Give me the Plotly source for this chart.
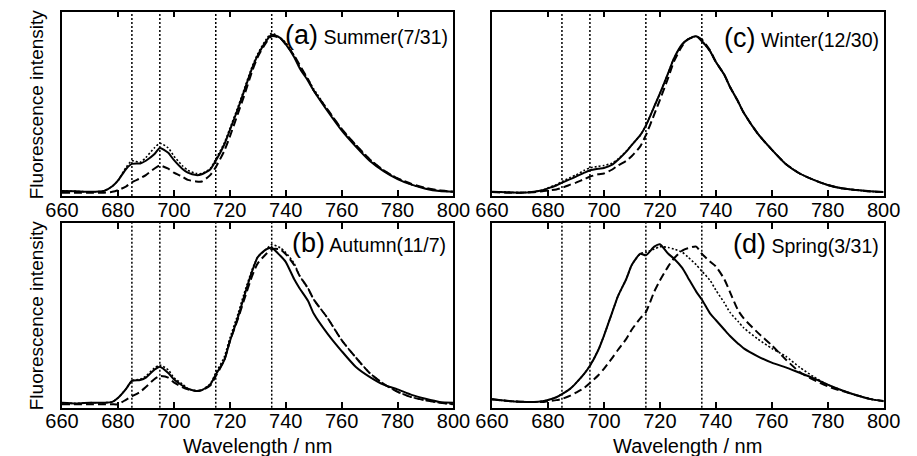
import plotly.graph_objects as go

# Wavelength grid (nm)
WL = [660, 665, 670, 675, 678, 680, 683, 685, 688, 690, 693, 695, 698, 700, 703, 705,
      708, 710, 713, 715, 718, 720, 723, 725, 728, 730, 733, 735, 738, 740, 743, 745,
      748, 750, 755, 760, 765, 770, 775, 780, 785, 790, 795, 800]

# (a) Summer(7/31)
a_solid = [.01, .008, .005, .01, .04, .075, .15, .18, .183, .2, .24, .28, .25, .205, .15, .125,
           .11, .115, .145, .2, .3, .39, .53, .63, .78, .86, .95, .99, .97, .93, .85, .78,
           .70, .64, .51, .39, .29, .2, .135, .085, .05, .025, .01, .005]
a_dot = [.01, .008, .005, .01, .04, .075, .16, .2, .19, .22, .28, .31, .28, .23, .17, .14,
         .12, .12, .15, .21, .31, .40, .54, .64, .79, .87, .96, 1.0, .97, .94, .86, .79,
         .71, .65, .52, .40, .30, .21, .14, .09, .05, .027, .012, .005]
a_dash = [.0, .0, .0, .0, .005, .015, .04, .065, .09, .11, .15, .17, .15, .125, .1, .08,
          .07, .07, .11, .16, .26, .35, .5, .6, .76, .85, .94, .98, .97, .93, .86, .8,
          .71, .64, .52, .4, .3, .21, .14, .09, .055, .03, .015, .005]

# (b) Autumn(11/7)
b_solid = [.01, .005, .01, .01, .015, .04, .1, .15, .155, .17, .22, .24, .2, .16, .12, .1,
           .085, .09, .125, .19, .28, .4, .56, .68, .85, .94, .99, 1.0, .95, .91, .8, .74,
           .66, .58, .45, .34, .24, .175, .125, .095, .06, .035, .015, .01]
b_dot = [.01, .005, .01, .01, .015, .04, .1, .15, .16, .18, .23, .25, .22, .17, .13, .1,
         .085, .09, .13, .2, .3, .42, .58, .7, .86, .94, .99, 1.02, 1.0, .97, .9, .82,
         .74, .67, .55, .41, .3, .2, .13, .08, .045, .025, .01, .0]
b_dash = [.0, .0, .0, .0, .0, .0, .03, .05, .08, .11, .16, .18, .17, .14, .11, .095,
          .085, .09, .12, .18, .28, .4, .55, .66, .82, .9, .96, .99, .99, .96, .89, .82,
          .74, .67, .55, .41, .3, .2, .13, .08, .045, .025, .01, .0]

# (c) Winter(12/30)
c_solid = [.006, .003, .0, .006, .015, .027, .045, .063, .085, .1, .125, .14, .15, .155, .175, .205,
           .257, .3, .36, .42, .54, .62, .75, .84, .93, .96, .98, .95, .885, .82, .74, .665,
           .57, .5, .37, .27, .18, .12, .08, .048, .027, .017, .008, .004]
c_dot = [.006, .003, .0, .006, .015, .03, .05, .07, .095, .11, .14, .155, .165, .17, .185, .21,
         .26, .3, .36, .42, .54, .62, .75, .84, .93, .96, .98, .95, .885, .82, .74, .665,
         .57, .5, .37, .27, .18, .12, .08, .048, .027, .017, .008, .004]
c_dash = [.004, .0, .0, .003, .008, .013, .02, .03, .05, .063, .085, .1, .115, .12, .145, .17,
          .2, .23, .29, .36, .49, .58, .72, .82, .92, .96, .98, .96, .89, .82, .74, .665,
          .57, .5, .37, .27, .18, .12, .08, .048, .027, .017, .008, .004]

# (d) Spring(3/31)
d_solid = [.017, .008, .002, .0, .005, .013, .03, .05, .085, .12, .18, .23, .33, .42, .57, .67,
           .78, .87, .94, .93, .985, 1.0, .94, .91, .85, .79, .70, .65, .56, .52, .46, .42,
           .37, .34, .29, .25, .22, .185, .15, .11, .075, .045, .02, .005]
d_dot = [.017, .008, .002, .0, .005, .013, .03, .05, .085, .12, .18, .23, .33, .42, .57, .67,
         .78, .87, .94, .95, .97, .985, .98, .97, .95, .92, .87, .83, .77, .71, .63, .57,
         .51, .47, .4, .34, .29, .22, .16, .11, .075, .045, .02, .005]
d_dash = [.017, .008, .002, .0, .0, .005, .012, .02, .04, .06, .09, .12, .17, .21, .28, .33,
          .4, .46, .53, .57, .7, .77, .86, .91, .96, .975, .985, .94, .89, .86, .78, .7,
          .58, .53, .44, .36, .27, .19, .14, .1, .07, .045, .02, .006]

MARKS = [685, 695, 715, 735]
X_TICKS = [660, 680, 700, 720, 740, 760, 780, 800]

panels = [
    ("a", "", (a_solid, a_dot, a_dash), "(a)", "Summer(7/31)"),
    ("c", "2", (c_solid, c_dot, c_dash), "(c)", "Winter(12/30)"),
    ("b", "3", (b_solid, b_dot, b_dash), "(b)", "Autumn(11/7)"),
    ("d", "4", (d_solid, d_dot, d_dash), "(d)", "Spring(3/31)"),
]

W, H = 917, 456
xdom_l = [46.7 / W, 453.3 / W]
xdom_r = [493.3 / W, 900.0 / W]
ydom_t = [1 - 196.0 / H, 1 - 11.7 / H]
ydom_b = [1 - 407.7 / H, 1 - 223.0 / H]
yranges = {"a": [-0.021, 1.134], "c": [-0.021, 1.134], "b": [-0.022, 1.158], "d": [-0.036, 1.135]}
doms = {"a": (xdom_l, ydom_t), "c": (xdom_r, ydom_t), "b": (xdom_l, ydom_b), "d": (xdom_r, ydom_b)}

FONT = "Liberation Sans, Arial, Helvetica, sans-serif"
fig = go.Figure()
layout = {}
shapes = []
annotations = []

styles = [dict(dash="solid", width=2.0), dict(dash="2px,2px", width=1.6), dict(dash="8px,4px", width=2.0)]

label_pos = {"a": (450, 35), "c": (897, 38), "b": (448, 243), "d": (897, 244)}

for name, suf, series, letter, text in panels:
    xa = "x" + suf
    ya = "y" + suf
    for s, st in zip(series, styles):
        fig.add_trace(go.Scatter(x=WL, y=s, xaxis=xa, yaxis=ya, mode="lines",
                                 line=dict(color="black", width=st["width"], dash=st["dash"], shape="spline", smoothing=0.6),
                                 showlegend=False, hoverinfo="skip"))
    xd, yd = doms[name]
    layout["xaxis" + suf] = dict(domain=xd, range=[660, 800], tickvals=X_TICKS, ticks="inside", ticklen=6,
                                 tickwidth=1.5, tickcolor="black", showline=True, linecolor="black", linewidth=1.5,
                                 mirror="ticks", showgrid=False, zeroline=False, anchor=ya,
                                 ticklabelstandoff=-5,
                                 tickfont=dict(family=FONT, size=20, color="black"))
    layout["yaxis" + suf] = dict(domain=yd, range=yranges[name], showticklabels=False, ticks="",
                                 showline=True, linecolor="black", linewidth=1.5, mirror=True,
                                 showgrid=False, zeroline=False, anchor=xa)
    for m in MARKS:
        shapes.append(dict(type="line", xref=xa, yref=ya + " domain", x0=m, x1=m, y0=0, y1=1,
                           line=dict(color="black", width=1.5, dash="2px,2px")))
    lx, ly = label_pos[name]
    annotations.append(dict(xref="paper", yref="paper", x=lx / W, y=1 - ly / H, xanchor="right", yanchor="middle",
                            showarrow=False, font=dict(family=FONT, size=19.5, color="black"),
                            text='<span style="font-size:27px">' + letter + '</span> ' + text))

for yc in (104, 315):
    annotations.append(dict(xref="paper", yref="paper", x=20 / W, y=1 - yc / H, textangle=-90,
                            xanchor="center", yanchor="middle", showarrow=False,
                            font=dict(family=FONT, size=19, color="black"), text="Fluorescence intensity"))
for xc in (250, 696.6):
    annotations.append(dict(xref="paper", yref="paper", x=xc / W, y=1 - 445.5 / H,
                            xanchor="center", yanchor="middle", showarrow=False,
                            font=dict(family=FONT, size=20, color="black"), text="Wavelength / nm"))

fig.update_layout(width=W, height=H, margin=dict(l=0, r=0, t=0, b=0),
                  paper_bgcolor="white", plot_bgcolor="white",
                  shapes=shapes, annotations=annotations, **layout)
fig.write_html("out.html")
